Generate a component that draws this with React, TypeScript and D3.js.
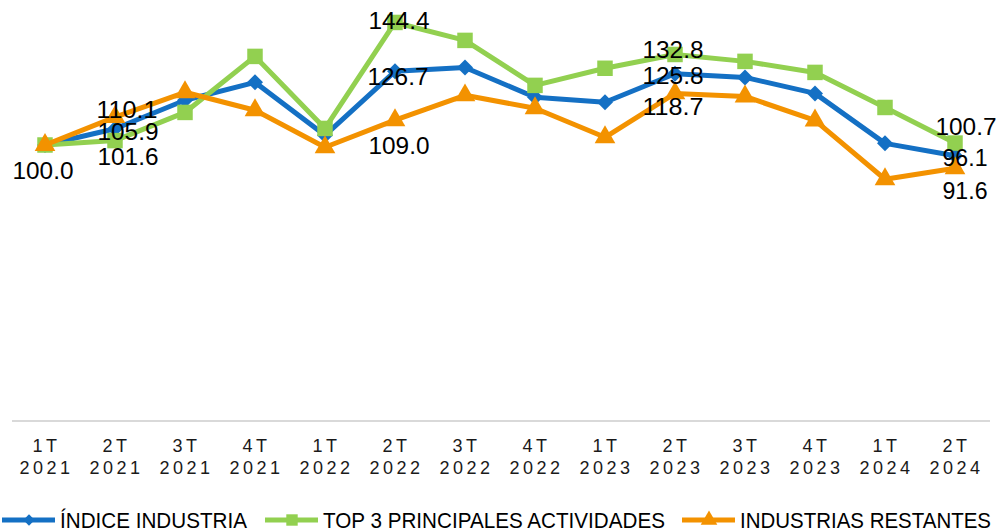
import * as d3 from "d3";
import { useEffect, useRef } from "react";

const quarters = ["1T", "2T", "3T", "4T", "1T", "2T", "3T", "4T", "1T", "2T", "3T", "4T", "1T", "2T"];
const years = ["2021", "2021", "2021", "2021", "2022", "2022", "2022", "2022", "2023", "2023", "2023", "2023", "2024", "2024"];

const indiceIndustria = [100.0, 105.9, 116.2, 122.7, 103.5, 126.7, 128.1, 117.3, 115.5, 125.8, 124.5, 118.7, 100.6, 96.1];
const top3Actividades = [100.0, 101.6, 111.8, 132.1, 106.0, 144.4, 137.9, 121.6, 127.8, 132.8, 130.3, 126.3, 113.6, 100.7];
const industriasRestantes = [100.0, 110.1, 119.1, 112.6, 99.2, 109.0, 118.0, 113.3, 102.8, 118.7, 117.6, 108.9, 87.6, 91.6];

const seriesNames = ["ÍNDICE INDUSTRIA", "TOP 3 PRINCIPALES ACTIVIDADES", "INDUSTRIAS RESTANTES"];
const seriesColors = ["#1470C4", "#92D050", "#F39200"];
const seriesMarkers = ["diamond", "square", "triangle"];

// which points carry a value label, and where the label sits relative to the point
const dataLabels = [
  { s: 0, i: 0, dx: -2, dy: 25 },
  { s: 2, i: 1, dx: 12, dy: -8 },
  { s: 0, i: 1, dx: 13, dy: 3 },
  { s: 1, i: 1, dx: 13, dy: 16 },
  { s: 1, i: 5, dx: 4, dy: -2 },
  { s: 0, i: 5, dx: 3, dy: 5 },
  { s: 2, i: 5, dx: 4, dy: 25 },
  { s: 1, i: 9, dx: -2, dy: -5 },
  { s: 0, i: 9, dx: -2, dy: 2 },
  { s: 2, i: 9, dx: -2, dy: 13 },
  { s: 1, i: 13, dx: 11, dy: -17 },
  { s: 0, i: 13, dx: 10, dy: 2 },
  { s: 2, i: 13, dx: 10, dy: 22 },
];

const legendTextWidths = [187, 342, 251];

export default function App() {
  const ref = useRef<SVGSVGElement>(null);

  useEffect(() => {
    const width = 997, height = 531;
    const svg = d3.select(ref.current);
    svg.selectAll("*").remove();
    svg.attr("width", width).attr("height", height);

    const series = [indiceIndustria, top3Actividades, industriasRestantes];
    const idx = d3.range(quarters.length);

    const x = d3.scaleBand<number>().domain(idx).range([10, 990]);
    const y = d3.scaleLinear().domain([0, 150]).range([421, 7]);
    const cx = (i: number) => x(i)! + x.bandwidth() / 2;

    const font = "'Liberation Sans', Arial, sans-serif";

    // baseline
    svg.append("line")
      .attr("x1", 12).attr("x2", 990)
      .attr("y1", y(0)).attr("y2", y(0))
      .attr("stroke", "#D9D9D9").attr("stroke-width", 2);

    // category labels
    const tick = svg.append("g").attr("font-family", font).attr("font-size", 18)
      .attr("fill", "#1a1a1a").attr("text-anchor", "middle").attr("letter-spacing", 3.5);
    idx.forEach(i => {
      tick.append("text").attr("x", cx(i) + 1.5).attr("y", 446).attr("dominant-baseline", "central").text(quarters[i]);
      tick.append("text").attr("x", cx(i) + 1.5).attr("y", 468).attr("dominant-baseline", "central").text(years[i]);
    });

    // diamond = square turned 45deg, like Excel's
    const markerPath = (type: string, small = false) => {
      if (type === "diamond") return d3.symbol(d3.symbolSquare, small ? 64 : 128)();
      if (type === "square") return d3.symbol(d3.symbolSquare, small ? 130 : 240)();
      return d3.symbol(d3.symbolTriangle, small ? 120 : 185)();
    };
    const rot = (type: string) => (type === "diamond" ? " rotate(45)" : "");

    const line = d3.line<number>().x((_, i) => cx(i)).y(d => y(d));

    series.forEach((vals, s) => {
      const g = svg.append("g");
      g.append("path")
        .attr("d", line(vals))
        .attr("fill", "none")
        .attr("stroke", seriesColors[s])
        .attr("stroke-width", 5)
        .attr("stroke-linejoin", "round");
      g.selectAll("path.m")
        .data(vals)
        .enter()
        .append("path")
        .attr("class", "m")
        .attr("d", markerPath(seriesMarkers[s]))
        .attr("transform", (d, i) => `translate(${cx(i)},${y(d)})${rot(seriesMarkers[s])}`)
        .attr("fill", seriesColors[s]);
    });

    // value labels
    const lab = svg.append("g").attr("font-family", font).attr("font-size", 24)
      .attr("fill", "#000").attr("text-anchor", "middle");
    dataLabels.forEach(l => {
      const v = series[l.s][l.i];
      lab.append("text")
        .attr("x", cx(l.i) + l.dx)
        .attr("y", y(v) + l.dy)
        .attr("dominant-baseline", "central")
        .attr("textLength", v >= 100 ? 61 : 45)
        .attr("lengthAdjust", "spacingAndGlyphs")
        .text(v.toFixed(1));
    });

    // legend
    const legendX = [2, 265, 682];
    const leg = svg.append("g").attr("font-family", font).attr("font-size", 22).attr("fill", "#000");
    seriesNames.forEach((name, s) => {
      const lx = legendX[s];
      leg.append("line")
        .attr("x1", lx).attr("x2", lx + 53)
        .attr("y1", 520).attr("y2", 520)
        .attr("stroke", seriesColors[s]).attr("stroke-width", 5);
      leg.append("path")
        .attr("d", markerPath(seriesMarkers[s], true))
        .attr("transform", `translate(${lx + 27},520)${rot(seriesMarkers[s])}`)
        .attr("fill", seriesColors[s]);
      leg.append("text")
        .attr("x", lx + 58).attr("y", 520)
        .attr("dominant-baseline", "central")
        .attr("textLength", legendTextWidths[s])
        .attr("lengthAdjust", "spacingAndGlyphs")
        .text(name);
    });
  }, []);

  return (
    <svg ref={ref} style={{ position: "absolute", left: 0, top: 0, display: "block" }}></svg>
  );
}
